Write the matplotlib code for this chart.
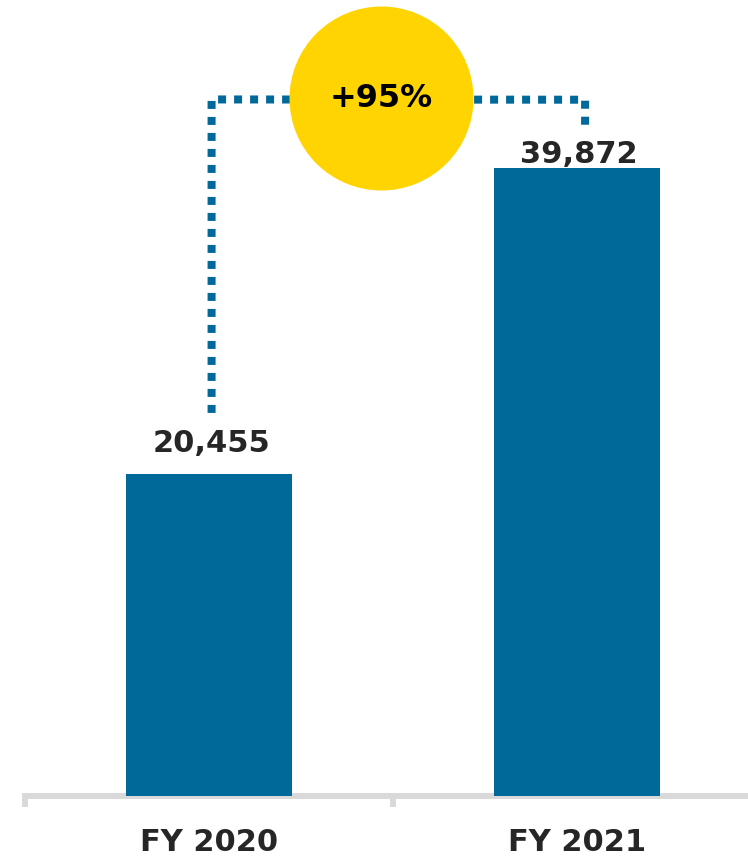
import numpy as np
import matplotlib
matplotlib.use("Agg")
import matplotlib.pyplot as plt

# values
years = ["FY 2020", "FY 2021"]
values = [20455, 39872]
growth_label = "+95%"

bar_color = "#00699A"
dot_color = "#00699A"
axis_gray = "#D9D9D9"
text_color = "#262626"
badge_color = "#FFD400"

DPI = 100
fig = plt.figure(figsize=(7.48, 8.58), dpi=DPI)
ax = fig.add_axes([0.0, 62 / 858, 1.0, 796 / 858])

x = np.arange(len(years))
ax.bar(x, values, width=0.451, color=bar_color, zorder=2)

ax.set_xlim(-0.568, 1.4647)
ax.set_ylim(0, 50556)

# value labels above bars (baseline offsets in points)
label_offsets = [15.8, 3.6]
for xi, v, off in zip(x, values, label_offsets):
    ax.annotate(f"{v:,}", xy=(xi, v), xytext=(1.5, off), textcoords="offset points",
                ha="center", va="baseline", fontsize=22, fontweight="bold",
                color=text_color)

# dotted connector from first bar up and over to second bar
px = 1 / 0.015745  # data units per pixel on y
conn_x = [x[0] + 0.007, x[0] + 0.007, x[1] + 0.022, x[1] + 0.022]
conn_y = [values[0] + 61 * px, values[0] + 374.5 * px,
          values[1] + 68.5 * px, values[1] + 36 * px]
ax.plot(conn_x, conn_y, color=dot_color, lw=8 * 72 / DPI,
        linestyle=(0, (1, 1)), dash_capstyle="butt",
        solid_joinstyle="miter", zorder=3)

# growth badge
badge_x, badge_y = 0.467, 44331
ax.scatter([badge_x], [badge_y], s=(184 * 72 / DPI) ** 2, color=badge_color,
           linewidths=0, zorder=4)
ax.text(badge_x, badge_y, growth_label, ha="center", va="center",
        fontsize=23, fontweight="bold", color="black", zorder=5)

# axis styling
for side in ["top", "right", "left"]:
    ax.spines[side].set_visible(False)
ax.spines["bottom"].set_color(axis_gray)
ax.spines["bottom"].set_linewidth(6 * 72 / DPI)
ax.spines["bottom"].set_bounds(-0.5 - 3 / 368, 1.4647)
ax.spines["bottom"].set_capstyle("butt")
ax.spines["bottom"].set_zorder(1)

ax.set_yticks([])
ax.set_xticks([-0.5, 0.5])
ax.set_xticklabels([])
ax.tick_params(axis="x", which="major", direction="out", length=11 * 72 / DPI,
               width=6 * 72 / DPI, color=axis_gray)
ax.set_xticks(x, minor=True)
ax.set_xticklabels(years, minor=True)
ax.tick_params(axis="x", which="minor", length=0, pad=23)
for lbl in ax.get_xticklabels(minor=True):
    lbl.set_fontsize(22)
    lbl.set_fontweight("bold")
    lbl.set_color(text_color)

fig.savefig("out.png", dpi=DPI)
